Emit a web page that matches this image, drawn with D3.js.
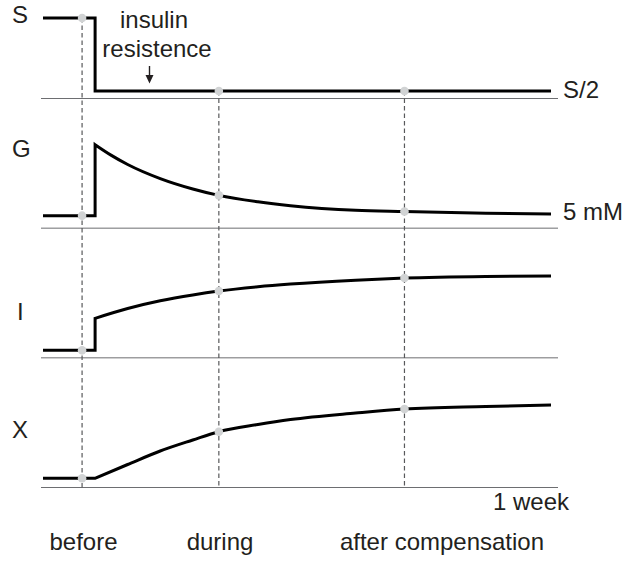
<!DOCTYPE html>
<html>
<head>
<meta charset="utf-8">
<script src="https://cdn.jsdelivr.net/npm/d3@7"></script>
<style>
  body { margin: 0; background: #fff; }
  text { font-family: "Liberation Sans", Arial, Helvetica, sans-serif; fill: #231f20; }
</style>
</head>
<body>
<div id="viz"></div>
<script>
const width = 635;
const height = 568;

// panels, top to bottom
const panels = ['S', 'G', 'I', 'X'];
const endLabels = ['S/2', '5 mM', '', ''];

// phases (time in days, step happens at t = 0)
const phaseNames = ['before', 'during', 'after compensation'];
const phaseDays = [-0.2, 1.9, 4.75];

// series as [day, level] (level in arbitrary units above the panel baseline)
const sSeries = [[-0.8, 80.5], [-0.2, 80.5], [0, 80.5], [0, 7.5], [1.9, 7.5], [4.75, 7.5], [7, 7.5]];
const gSeries = [[-0.8, 12.5], [-0.2, 12.5], [0, 12.5], [0, 83.5], [0.25, 72.8], [0.5, 63.7], [1, 49.6],
  [1.5, 39.2], [1.9, 32.8], [2.5, 26.4], [3, 22.5], [4, 17.8], [4.75, 16.6], [6, 15], [7, 14.2]];
const iSeries = [[-0.8, 7.5], [-0.2, 7.5], [0, 7.5], [0, 39.5], [0.5, 49.3], [1, 57], [1.5, 62.9],
  [1.9, 66.8], [2.5, 71.1], [3, 73.8], [4, 77.7], [4.75, 79.8], [6, 81.4], [7, 81.8]];
const xSeries = [[-0.8, 9.2], [-0.2, 9.2], [0, 9.2], [0.5, 23], [1, 36.5], [1.5, 47.5], [1.9, 55.8],
  [2.5, 63], [3, 68], [4, 74.5], [4.75, 78.5], [6, 81], [7, 82.5]];
const allSeries = [sSeries, gSeries, iSeries, xSeries];

const xScale = d3.scaleLinear()
  .domain([-0.8, 7])
  .range([43, 551]);

const baseScale = d3.scalePoint()
  .domain(panels)
  .range([98.5, 487.5]);

const yScales = panels.map(p => d3.scaleLinear()
  .domain([0, 100])
  .range([baseScale(p), baseScale(p) - 100]));

const svg = d3.select('#viz')
  .append('svg')
    .attr('width', width)
    .attr('height', height);

// panel baselines
svg.append('g')
  .selectAll('line')
  .data(panels)
  .join('line')
    .attr('x1', xScale.range()[0] - 2)
    .attr('x2', xScale.range()[1] + 7)
    .attr('y1', d => baseScale(d))
    .attr('y2', d => baseScale(d))
    .attr('stroke', '#6d6e71')
    .attr('stroke-width', 1);

// dashed phase markers, from the S dot down to the last baseline
const sAt = t => sSeries.filter(d => d[0] === t).slice(-1)[0][1];
svg.append('g')
  .selectAll('line')
  .data(phaseDays)
  .join('line')
    .attr('x1', d => xScale(d))
    .attr('x2', d => xScale(d))
    .attr('y1', d => yScales[0](sAt(d)))
    .attr('y2', baseScale('X'))
    .attr('stroke', '#58595b')
    .attr('stroke-width', 1.2)
    .attr('stroke-dasharray', '4.5,3');

// curves: linear step part, then smooth part
const linePre = d3.line()
  .x(d => xScale(d[0]));
const lineCurve = d3.line()
  .x(d => xScale(d[0]))
  .curve(d3.curveMonotoneX);

allSeries.forEach((series, i) => {
  const y = yScales[i];
  let cut = 0;
  series.forEach((d, j) => { if (d[0] === 0) cut = j; });
  const pre = series.slice(0, cut + 1);
  const post = series.slice(cut);
  linePre.y(d => y(d[1]));
  lineCurve.y(d => y(d[1]));
  const path = linePre(pre) + lineCurve(post).replace(/^M/, 'L');
  svg.append('path')
    .attr('d', path)
    .attr('fill', 'none')
    .attr('stroke', '#000')
    .attr('stroke-width', 3)
    .attr('stroke-linejoin', 'miter');
});

// grey dots at the phases
allSeries.forEach((series, i) => {
  const pts = phaseDays.map(t => series.filter(d => d[0] === t).slice(-1)[0]);
  svg.append('g')
    .selectAll('circle')
    .data(pts)
    .join('circle')
      .attr('cx', d => xScale(d[0]))
      .attr('cy', d => yScales[i](d[1]))
      .attr('r', 4.3)
      .attr('fill', '#d1d3d4');
});

// panel labels
const labelY = [23, 157, 320, 438];
svg.append('g')
  .selectAll('text')
  .data(panels)
  .join('text')
    .attr('x', (d, i) => d === 'I' ? 17 : 12)
    .attr('y', (d, i) => labelY[i])
    .attr('font-size', 24)
    .text(d => d);

// end labels
svg.append('g')
  .selectAll('text')
  .data(endLabels)
  .join('text')
    .attr('x', xScale(7) + 12)
    .attr('y', (d, i) => yScales[i](allSeries[i].slice(-1)[0][1]) + 6.5)
    .attr('font-size', 24)
    .text(d => d);

// annotation
svg.append('text')
  .attr('x', 154)
  .attr('y', 28)
  .attr('text-anchor', 'middle')
  .attr('font-size', 24)
  .text('insulin');
svg.append('text')
  .attr('x', 157)
  .attr('y', 57)
  .attr('text-anchor', 'middle')
  .attr('font-size', 24)
  .text('resistence');
svg.append('line')
  .attr('x1', 149.5).attr('x2', 149.5)
  .attr('y1', 66).attr('y2', 78)
  .attr('stroke', '#231f20')
  .attr('stroke-width', 1.4);
svg.append('path')
  .attr('d', 'M145.5,75 L153.5,75 L149.5,83.5 Z')
  .attr('fill', '#231f20');

// time axis label
svg.append('text')
  .attr('x', 569)
  .attr('y', 510)
  .attr('text-anchor', 'end')
  .attr('font-size', 24)
  .text('1 week');

// phase names
const phaseLabelX = [83.5, 220, 442];
svg.append('g')
  .selectAll('text')
  .data(phaseNames)
  .join('text')
    .attr('x', (d, i) => phaseLabelX[i])
    .attr('y', 550)
    .attr('text-anchor', 'middle')
    .attr('font-size', 24)
    .text(d => d);
</script>
</body>
</html>
